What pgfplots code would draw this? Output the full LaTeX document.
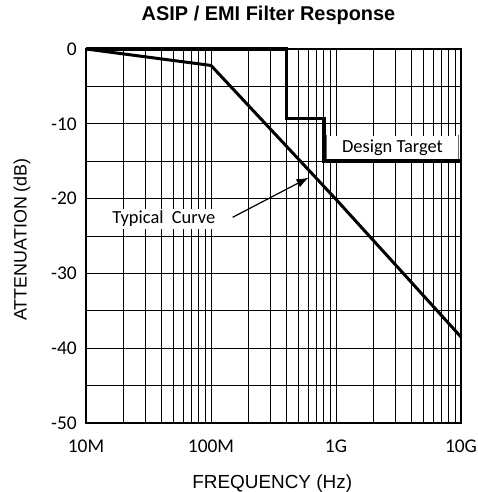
\documentclass[border=0pt]{standalone}
\usepackage{pgfplots}
\pgfplotsset{compat=1.18}
\usetikzlibrary{arrows.meta}
\usepackage{fontspec}
\setmainfont{Liberation Sans}
\newfontfamily\calfont{Carlito}
\begin{document}
\begin{tikzpicture}
\begin{axis}[
  scale only axis,
  width=375bp, height=374bp,
  xmode=log,
  xmin=1e7, xmax=1e10,
  ymin=-50, ymax=0,
  xtick={1e7,1e8,1e9,1e10},
  xticklabels={10M,100M,1G,10G},
  ytick={-50,-40,-30,-20,-10,0},
  yticklabels={-50,-40,-30,-20,-10,0},
  minor ytick={-45,-35,-25,-15,-5},
  grid=both,
  major grid style={black, line width=0.9bp},
  minor grid style={black, line width=0.9bp},
  major tick length=0pt, minor tick length=0pt,
  axis line style={black, line width=1.5bp},
  /pgf/number format/assume math mode=true,
  tick label style={font=\calfont\fontsize{19.5}{21}\selectfont},
  xticklabel style={anchor=base, yshift=-29bp},
  yticklabel style={anchor=east, inner xsep=0pt, xshift=-9bp},
  title={\bfseries ASIP / EMI Filter Response},
  title style={font=\fontsize{20}{22}\selectfont, at={(rel axis cs:0.5,1)}, anchor=base, yshift=22.3bp, xshift=-5bp},
  xlabel={FREQUENCY (Hz)},
  ylabel={ATTENUATION (dB)},
  xlabel style={font=\fontsize{19}{21}\selectfont, at={(rel axis cs:0.4965,0)}, anchor=base, yshift=-65bp},
  ylabel style={font=\fontsize{18}{20}\selectfont, at={(rel axis cs:-0.1707,0.4906)}, anchor=center},
  clip=false,
]
% label boxes
\node[fill=white, inner sep=0pt, minimum width=131bp, minimum height=25bp, anchor=south west]
  at (axis cs:8.41e8,-15) {};
\draw[black!60, line width=0.5bp] (axis cs:8.41e8,-15) -- (axis cs:8.41e8,-11.5);
\draw[black!60, line width=0.5bp] (axis cs:9.53e9,-15) -- (axis cs:9.53e9,-11.5);
\node[font=\calfont\fontsize{18.5}{20}\selectfont, inner sep=0pt] at (axis cs:2.83e9,-13.15) {Design Target};
\node[fill=white, inner xsep=2bp, inner ysep=2bp, font=\calfont\fontsize{18.5}{20}\selectfont] at (axis cs:4.2e7,-22.7) {Typical\ \ Curve};
\draw[-{Latex[length=12bp,width=9bp]}, line width=1.2bp] (axis cs:1.49e8,-22.5) -- (axis cs:6.04e8,-17.2);
% design target
\addplot[black, line width=3.4bp, line join=miter] coordinates {
  (1e7,0) (4e8,0) (4e8,-9.3) (8e8,-9.3) (8e8,-15) (1e10,-15)
};
% typical curve
\addplot[black, line width=3bp, line join=round] coordinates {
  (1e7,0) (1e8,-2.2) (1e9,-20.1) (1e10,-38.5)
};
\end{axis}
\pgfresetboundingbox
\path ([xshift=-86bp,yshift=-69bp]current axis.south west) rectangle ([xshift=16bp,yshift=49bp]current axis.north east);
\end{tikzpicture}
\end{document}
